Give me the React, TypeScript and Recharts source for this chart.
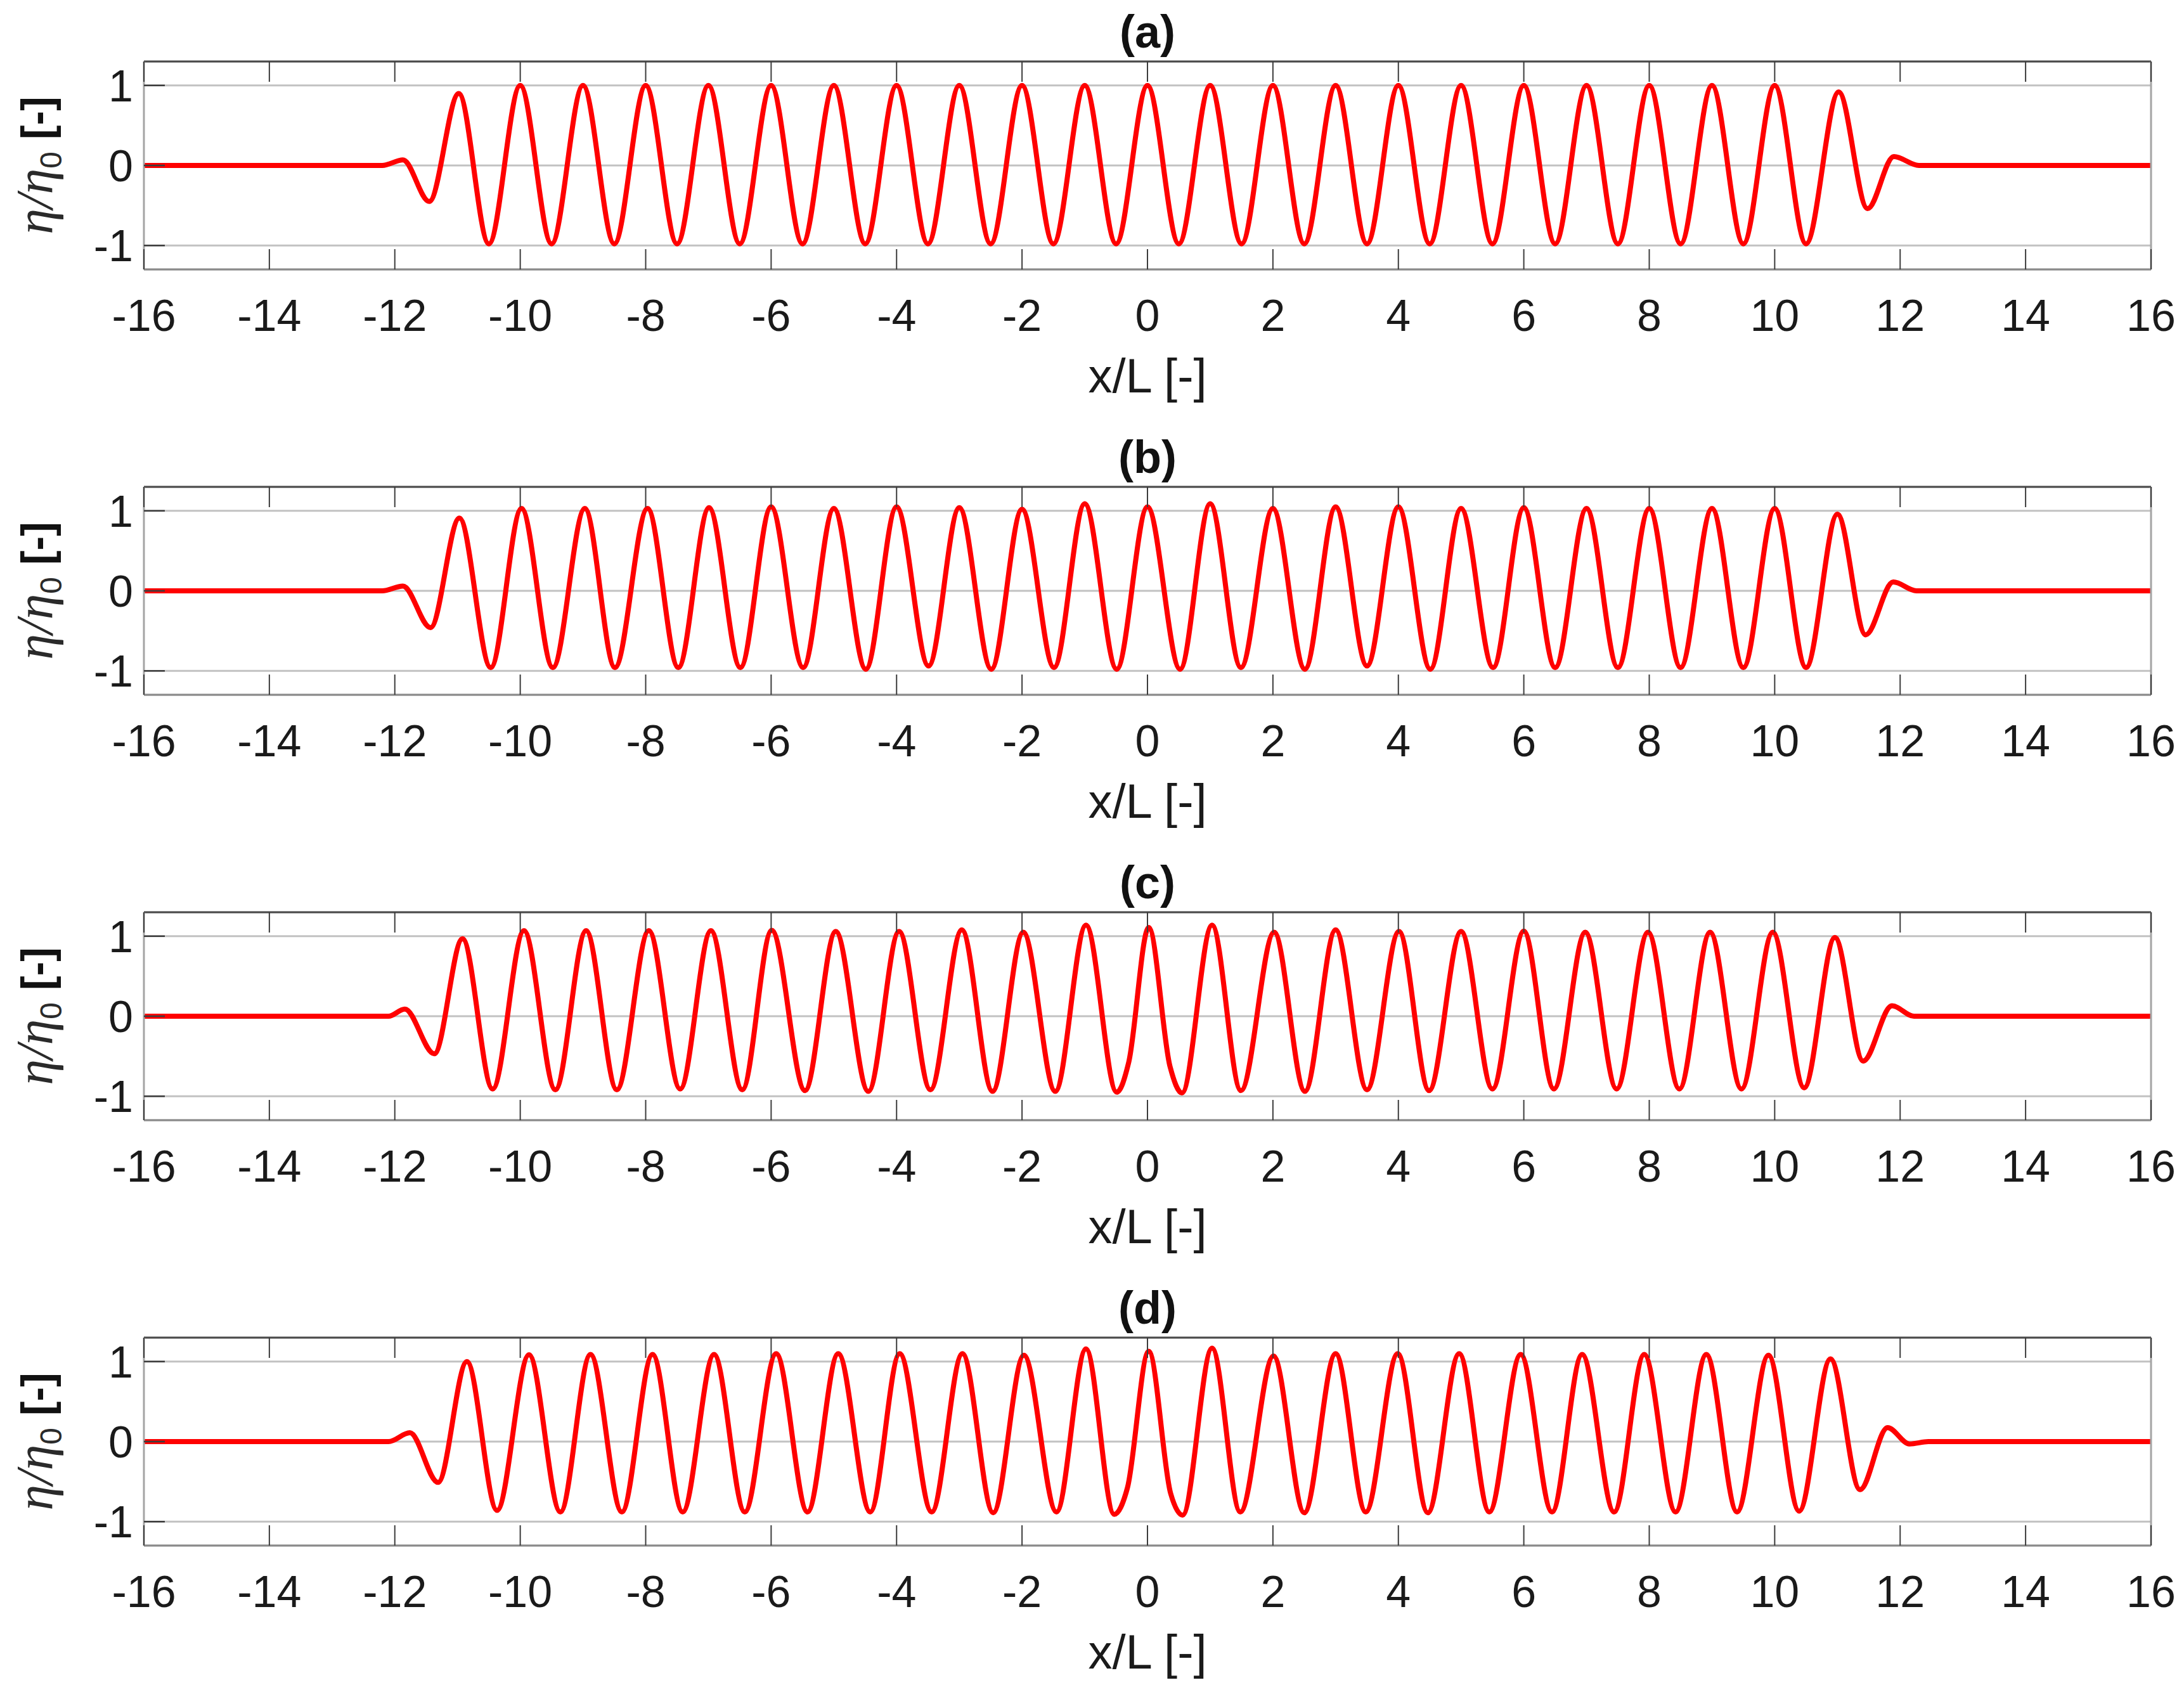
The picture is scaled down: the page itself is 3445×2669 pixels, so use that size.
import { LineChart, Line, XAxis, YAxis, CartesianGrid, Label } from "recharts";

const SANS = '"Liberation Sans", Arial, Helvetica, sans-serif';
const SERIF = '"Liberation Serif", "Times New Roman", serif';

const xTicks = [-16, -14, -12, -10, -8, -6, -4, -2, 0, 2, 4, 6, 8, 10, 12, 14, 16];
const yTicks = [-1, 0, 1];
const panelTitles = ["(a)", "(b)", "(c)", "(d)"];
const xLabel = "x/L [-]";

// crests, troughs and shoulders: [x/L, eta/eta0]
const waveA: [number, number][] = [
  [-16, 0], [-12.2, 0], [-11.87, 0.07], [-11.45, -0.45], [-10.98, 0.9],
  [-10.5, -0.98], [-10, 1.0], [-9.5, -0.98], [-9, 1.0], [-8.5, -0.98], [-8, 1.0],
  [-7.5, -0.98], [-7, 1.0], [-6.5, -0.98], [-6, 1.0], [-5.5, -0.98], [-5, 1.0],
  [-4.5, -0.98], [-4, 1.0], [-3.5, -0.98], [-3, 1.0], [-2.5, -0.98], [-2, 1.0],
  [-1.5, -0.98], [-1, 1.0], [-0.5, -0.98], [0, 1.0], [0.5, -0.98], [1, 1.0],
  [1.5, -0.98], [2, 1.0], [2.5, -0.98], [3, 1.0], [3.5, -0.98], [4, 1.0],
  [4.5, -0.98], [5, 1.0], [5.5, -0.98], [6, 1.0], [6.5, -0.98], [7, 1.0],
  [7.5, -0.98], [8, 1.0], [8.5, -0.98], [9, 1.0], [9.5, -0.98], [10, 1.0],
  [10.5, -0.98], [11.02, 0.92], [11.48, -0.54], [11.9, 0.11], [12.3, 0], [16, 0],
];

const waveB: [number, number][] = [
  [-16, 0], [-12.2, 0], [-11.87, 0.06], [-11.43, -0.46], [-10.97, 0.91],
  [-10.47, -0.96], [-9.98, 1.03], [-9.48, -0.96], [-8.97, 1.03], [-8.49, -0.96],
  [-7.97, 1.03], [-7.48, -0.96], [-6.99, 1.04], [-6.49, -0.96], [-6, 1.05],
  [-5.49, -0.96], [-5, 1.03], [-4.49, -0.98], [-4, 1.05], [-3.49, -0.94],
  [-3, 1.04], [-2.49, -0.98], [-2, 1.02], [-1.49, -0.96], [-1, 1.09],
  [-0.49, -0.98], [0, 1.05], [0.52, -0.98], [1, 1.09], [1.49, -0.96],
  [2, 1.03], [2.51, -0.98], [3, 1.05], [3.5, -0.94], [4, 1.05], [4.51, -0.98],
  [5, 1.03], [5.51, -0.96], [6, 1.04], [6.5, -0.96], [7, 1.03], [7.5, -0.96],
  [8, 1.03], [8.5, -0.96], [9, 1.03], [9.5, -0.96], [10, 1.03], [10.5, -0.96],
  [11.0, 0.96], [11.45, -0.55], [11.89, 0.11], [12.26, 0], [16, 0],
];

const waveC: [number, number][] = [
  [-16, 0], [-12.1, 0], [-11.84, 0.09], [-11.37, -0.47], [-10.92, 0.97],
  [-10.44, -0.91], [-9.94, 1.07], [-9.44, -0.92], [-8.95, 1.07], [-8.46, -0.92],
  [-7.95, 1.07], [-7.45, -0.91], [-6.96, 1.07], [-6.46, -0.92], [-5.99, 1.075],
  [-5.46, -0.93], [-4.97, 1.06], [-4.45, -0.94], [-3.96, 1.06], [-3.46, -0.92],
  [-2.96, 1.08], [-2.47, -0.94], [-1.98, 1.05], [-1.47, -0.94], [-0.98, 1.14],
  [-0.49, -0.95], [-0.3, -0.58], [0.02, 1.11], [0.36, -0.63], [0.55, -0.96],
  [1.03, 1.14], [1.49, -0.93], [2.02, 1.05], [2.51, -0.94], [3.0, 1.08],
  [3.5, -0.92], [4.01, 1.06], [4.49, -0.93], [5.0, 1.06], [5.5, -0.91],
  [6.0, 1.065], [6.48, -0.91], [6.98, 1.05], [7.48, -0.91], [7.98, 1.05],
  [8.48, -0.91], [8.97, 1.05], [9.47, -0.91], [9.97, 1.05], [10.47, -0.895],
  [10.96, 0.985], [11.41, -0.56], [11.87, 0.13], [12.22, 0], [16, 0],
];

const waveD: [number, number][] = [
  [-16, 0], [-12.1, 0], [-11.76, 0.11], [-11.31, -0.51], [-10.85, 1.0],
  [-10.37, -0.86], [-9.86, 1.086], [-9.36, -0.88], [-8.88, 1.09], [-8.38, -0.88],
  [-7.89, 1.09], [-7.41, -0.88], [-6.91, 1.09], [-6.42, -0.88], [-5.92, 1.1],
  [-5.42, -0.88], [-4.93, 1.1], [-4.42, -0.88], [-3.95, 1.1], [-3.44, -0.88],
  [-2.95, 1.1], [-2.46, -0.89], [-1.97, 1.08], [-1.45, -0.88], [-0.98, 1.16],
  [-0.53, -0.91], [-0.32, -0.58], [0.02, 1.13], [0.37, -0.65], [0.56, -0.92],
  [1.03, 1.17], [1.48, -0.88], [2.01, 1.07], [2.5, -0.89], [3.0, 1.1],
  [3.48, -0.88], [3.99, 1.1], [4.47, -0.89], [4.97, 1.1], [5.45, -0.88],
  [5.95, 1.09], [6.45, -0.88], [6.93, 1.09], [7.44, -0.88], [7.92, 1.09],
  [8.42, -0.88], [8.91, 1.09], [9.4, -0.88], [9.9, 1.08], [10.39, -0.87],
  [10.89, 1.035], [11.36, -0.6], [11.8, 0.175], [12.15, -0.03], [12.45, 0], [16, 0],
];

const waves = [waveA, waveB, waveC, waveD];

const W = 3445;
const H = 671;
const MARGIN = { top: 96, right: 51, bottom: 0, left: 0 };
const Y_AXIS_W = 227;
const X_AXIS_H = 246;
const TICK_LEN = 32;
const TICK_COLOR = "#3c3c3c";

function BottomTick({ x, y, payload }: any) {
  return (
    <g>
      <line x1={x} x2={x} y1={y} y2={y - TICK_LEN} stroke={TICK_COLOR} strokeWidth={2} />
      <text x={x} y={y + 97} textAnchor="middle" fontFamily={SANS} fontSize={70} fill="#1a1a1a">
        {payload.value}
      </text>
    </g>
  );
}

function TopTick({ x, y }: any) {
  return <line x1={x} x2={x} y1={y} y2={y + TICK_LEN} stroke={TICK_COLOR} strokeWidth={2} />;
}

function LeftTick({ x, y, payload }: any) {
  return (
    <g>
      <line x1={x} x2={x + 33} y1={y} y2={y} stroke={TICK_COLOR} strokeWidth={2.5} />
      <text x={x - 17} y={y + 25} textAnchor="end" fontFamily={SANS} fontSize={70} fill="#1a1a1a">
        {payload.value}
      </text>
    </g>
  );
}

function RightTick({ x, y }: any) {
  return <line x1={x} x2={x - 33} y1={y} y2={y} stroke={TICK_COLOR} strokeWidth={2.5} />;
}

function Panel({ title, points }: { title: string; points: [number, number][] }) {
  const data = points.map(([x, y]) => ({ x, y }));
  return (
    <LineChart width={W} height={H} data={data} margin={MARGIN}>
      <CartesianGrid vertical={false} stroke="#c2c2c2" strokeWidth={3} />
      <XAxis
        dataKey="x"
        type="number"
        domain={[-16, 16]}
        ticks={xTicks}
        interval={0}
        height={X_AXIS_H}
        tickSize={0}
        tickMargin={0}
        tickLine={false}
        tick={BottomTick}
        axisLine={{ stroke: "#8a8a8a", strokeWidth: 3 }}
      >
        <Label
          content={(p: any) => {
            const vb = p.viewBox || { x: Y_AXIS_W, y: 425, width: 3166 };
            return (
              <text x={vb.x + vb.width / 2} y={vb.y + 194} textAnchor="middle" fontFamily={SANS} fontSize={76} fill="#1a1a1a">
                {xLabel}
              </text>
            );
          }}
        />
      </XAxis>
      <XAxis
        xAxisId="top"
        orientation="top"
        dataKey="x"
        type="number"
        domain={[-16, 16]}
        ticks={xTicks}
        interval={0}
        height={1}
        tickSize={0}
        tickMargin={0}
        tickLine={false}
        tick={TopTick}
        axisLine={{ stroke: "#4a4a4a", strokeWidth: 3 }}
      >
        <Label
          content={(p: any) => {
            const vb = p.viewBox || { x: Y_AXIS_W, y: 96, width: 3166, height: 1 };
            return (
              <text x={vb.x + vb.width / 2} y={vb.y + vb.height - 22} textAnchor="middle" fontFamily={SANS} fontWeight="bold" fontSize={72} fill="#111">
                {title}
              </text>
            );
          }}
        />
      </XAxis>
      <YAxis
        type="number"
        domain={[-1.3, 1.3]}
        ticks={yTicks}
        interval={0}
        width={Y_AXIS_W}
        tickSize={0}
        tickMargin={0}
        tickLine={false}
        tick={LeftTick}
        axisLine={{ stroke: "#a4a4a4", strokeWidth: 3 }}
      >
        <Label
          content={(p: any) => {
            const vb = p.viewBox || { x: 0, y: 97, height: 328 };
            const cx = vb.x + 82;
            const cy = vb.y + vb.height / 2;
            return (
              <text x={cx} y={cy} transform={`rotate(-90 ${cx} ${cy})`} textAnchor="middle" fill="#2a2a2a">
                <tspan fontFamily={SERIF} fontStyle="italic" fontSize={82}>η/η</tspan>
                <tspan fontFamily={SANS} fontSize={48} dy={15}>0</tspan>
                <tspan fontFamily={SANS} fontWeight="bold" fontSize={68} dy={-15} fill="#111">{" [-]"}</tspan>
              </text>
            );
          }}
        />
      </YAxis>
      <YAxis
        yAxisId="right"
        orientation="right"
        type="number"
        domain={[-1.3, 1.3]}
        ticks={yTicks}
        interval={0}
        width={1}
        tickSize={0}
        tickMargin={0}
        tickLine={false}
        tick={RightTick}
        axisLine={{ stroke: "#a4a4a4", strokeWidth: 3 }}
      />
      <Line
        type="monotone"
        dataKey="y"
        stroke="#ff0000"
        strokeWidth={8}
        dot={false}
        activeDot={false}
        isAnimationActive={false}
      />
    </LineChart>
  );
}

export default function App() {
  return (
    <div style={{ position: "absolute", left: 0, top: 0, width: W, height: 2669, background: "#fff" }}>
      {waves.map((pts, i) => (
        <div key={panelTitles[i]} style={{ position: "absolute", left: 0, top: i * H }}>
          <Panel title={panelTitles[i]} points={pts} />
        </div>
      ))}
    </div>
  );
}
